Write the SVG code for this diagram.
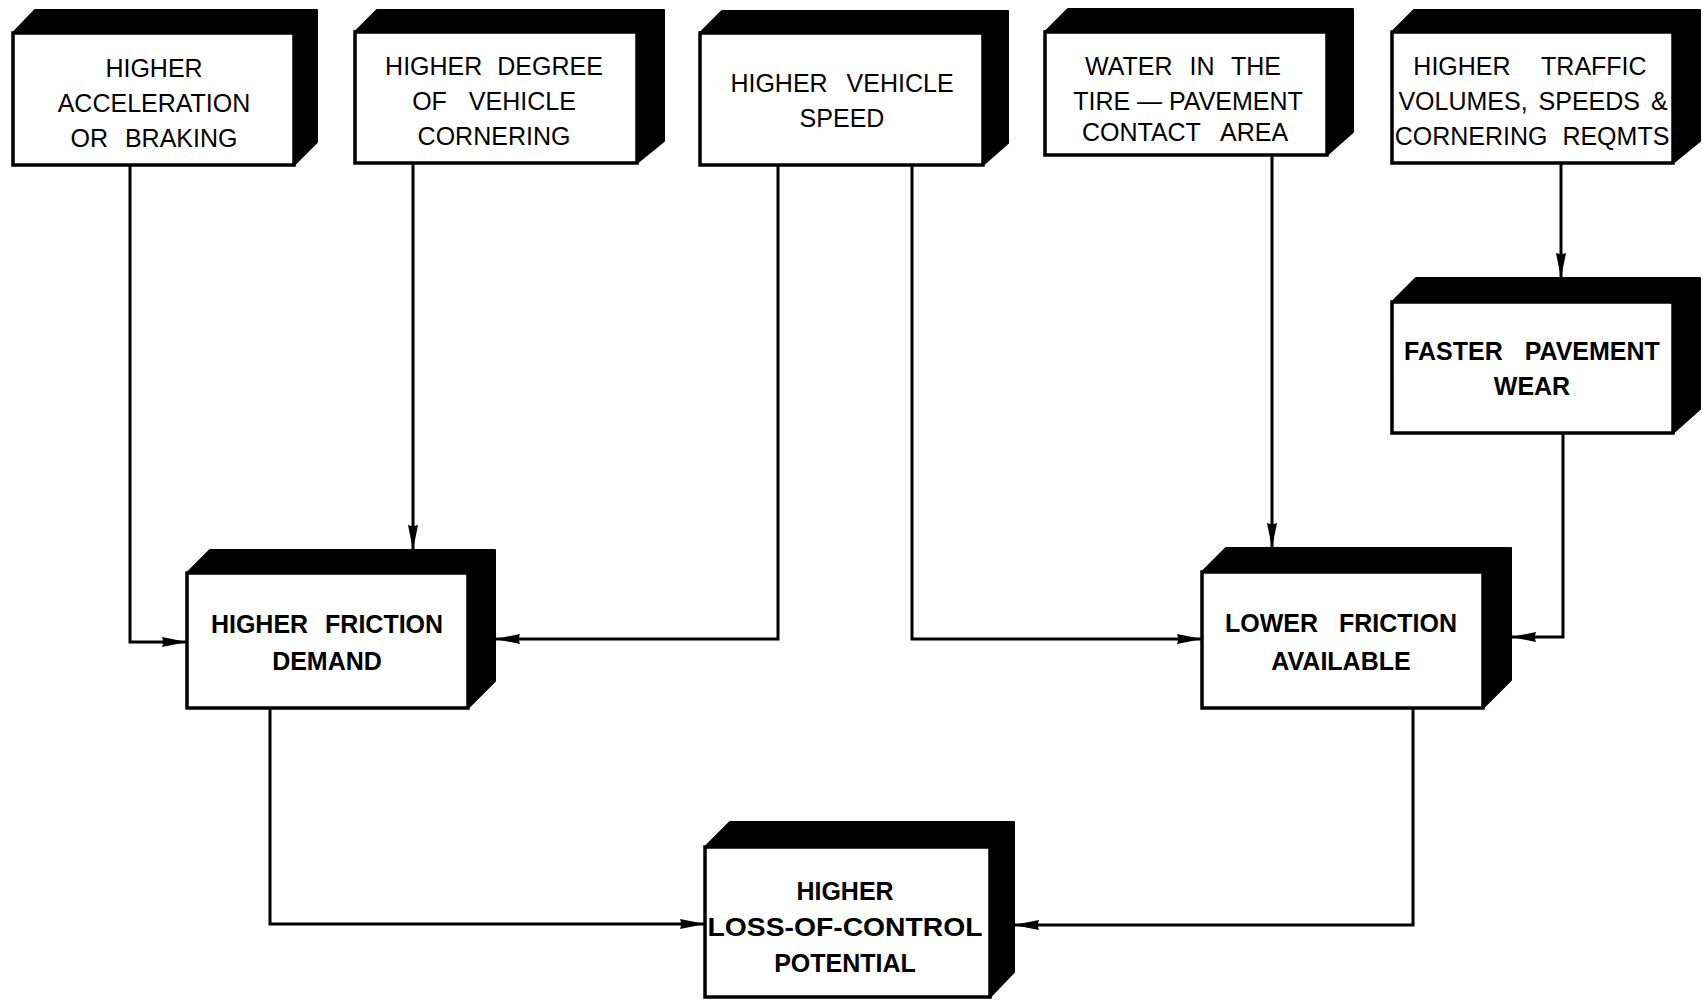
<svg xmlns="http://www.w3.org/2000/svg" width="1703" height="1008" viewBox="0 0 1703 1008">
<style>
.side{fill:#000;stroke:#000;stroke-width:2;stroke-linejoin:round}
.face{fill:#fff;stroke:#000;stroke-width:3.5}
.t{font-family:"Liberation Sans",Arial,sans-serif;font-size:25px;fill:#000;text-anchor:middle}
.b{font-weight:bold}
.c{fill:none;stroke:#000;stroke-width:3}
</style>
<defs>
<marker id="ah" markerUnits="userSpaceOnUse" markerWidth="26" markerHeight="11" refX="25" refY="5.5" orient="auto">
<path d="M0,0.5 L25,5.5 L0,10.5 Q2,5.5 0,0.5 z" fill="#000"/>
</marker>
</defs>
<rect width="1703" height="1008" fill="#fff"/>
<g id="connectors">
<path class="c" d="M130,165 V642 H187" marker-end="url(#ah)"/>
<path class="c" d="M413,163 V550" marker-end="url(#ah)"/>
<path class="c" d="M778,165 V639 H495" marker-end="url(#ah)"/>
<path class="c" d="M912,165 V639 H1202" marker-end="url(#ah)"/>
<path class="c" d="M1272,155 V548" marker-end="url(#ah)"/>
<path class="c" d="M1561,163 V278" marker-end="url(#ah)"/>
<path class="c" d="M1563,433 V637 H1511" marker-end="url(#ah)"/>
<path class="c" d="M270,708 V924 H705" marker-end="url(#ah)"/>
<path class="c" d="M1413,708 V925 H1014" marker-end="url(#ah)"/>
</g>
<g id="n1">
<polygon class="side" points="13,33 35,10 317,10 317,142 294,165 294,33"/>
<rect class="face" x="13" y="33" width="281" height="132"/>
<text class="t" x="154" y="77">HIGHER</text>
<text class="t" x="154" y="112">ACCELERATION</text>
<text class="t" x="154" y="147" word-spacing="10">OR BRAKING</text>
</g>
<g id="n2">
<polygon class="side" points="355,32 377,10 664,10 664,141 637,163 637,32"/>
<rect class="face" x="355" y="32" width="282" height="131"/>
<text class="t" x="494" y="75" word-spacing="8">HIGHER DEGREE</text>
<text class="t" x="494" y="110" word-spacing="15">OF VEHICLE</text>
<text class="t" x="494" y="145">CORNERING</text>
</g>
<g id="n3">
<polygon class="side" points="700,33 722,11 1008,11 1008,143 983,165 983,33"/>
<rect class="face" x="700" y="33" width="283" height="132"/>
<text class="t" x="842" y="92" word-spacing="12">HIGHER VEHICLE</text>
<text class="t" x="842" y="127">SPEED</text>
</g>
<g id="n4">
<polygon class="side" points="1045,32 1068,9 1353,9 1353,132 1327,155 1327,32"/>
<rect class="face" x="1045" y="32" width="282" height="123"/>
<text class="t" x="1183" y="75" word-spacing="10">WATER IN THE</text>
<text class="t" x="1188" y="110">TIRE — PAVEMENT</text>
<text class="t" x="1185" y="141" word-spacing="14">CONTACT AREA</text>
</g>
<g id="n5">
<polygon class="side" points="1392,32 1414,10 1700,10 1700,141 1673,163 1673,32"/>
<rect class="face" x="1392" y="32" width="281" height="131"/>
<text class="t" x="1530" y="75" word-spacing="24">HIGHER TRAFFIC</text>
<text class="t" x="1533" y="110" word-spacing="4">VOLUMES, SPEEDS &amp;</text>
<text class="t" x="1532" y="145" word-spacing="8">CORNERING REQMTS</text>
</g>
<g id="n6">
<polygon class="side" points="1392,302 1416,278 1700,278 1700,409 1673,433 1673,302"/>
<rect class="face" x="1392" y="302" width="281" height="131"/>
<text class="t b" x="1532" y="360" word-spacing="15">FASTER PAVEMENT</text>
<text class="t b" x="1532" y="395">WEAR</text>
</g>
<g id="n7">
<polygon class="side" points="187,573 210,550 495,550 495,681 468,708 468,573"/>
<rect class="face" x="187" y="573" width="281" height="135"/>
<text class="t b" x="327" y="633" word-spacing="10">HIGHER FRICTION</text>
<text class="t b" x="327" y="670">DEMAND</text>
</g>
<g id="n8">
<polygon class="side" points="1202,572 1226,548 1511,548 1511,680 1483,708 1483,572"/>
<rect class="face" x="1202" y="572" width="281" height="136"/>
<text class="t b" x="1341" y="632" word-spacing="14">LOWER FRICTION</text>
<text class="t b" x="1341" y="670">AVAILABLE</text>
</g>
<g id="n9">
<polygon class="side" points="705,847 730,822 1014,822 1014,972 990,997 990,847"/>
<rect class="face" x="705" y="847" width="285" height="150"/>
<text class="t b" x="845" y="900">HIGHER</text>
<text class="t b" x="845" y="936" textLength="275" lengthAdjust="spacingAndGlyphs">LOSS-OF-CONTROL</text>
<text class="t b" x="845" y="972">POTENTIAL</text>
</g>
</svg>
